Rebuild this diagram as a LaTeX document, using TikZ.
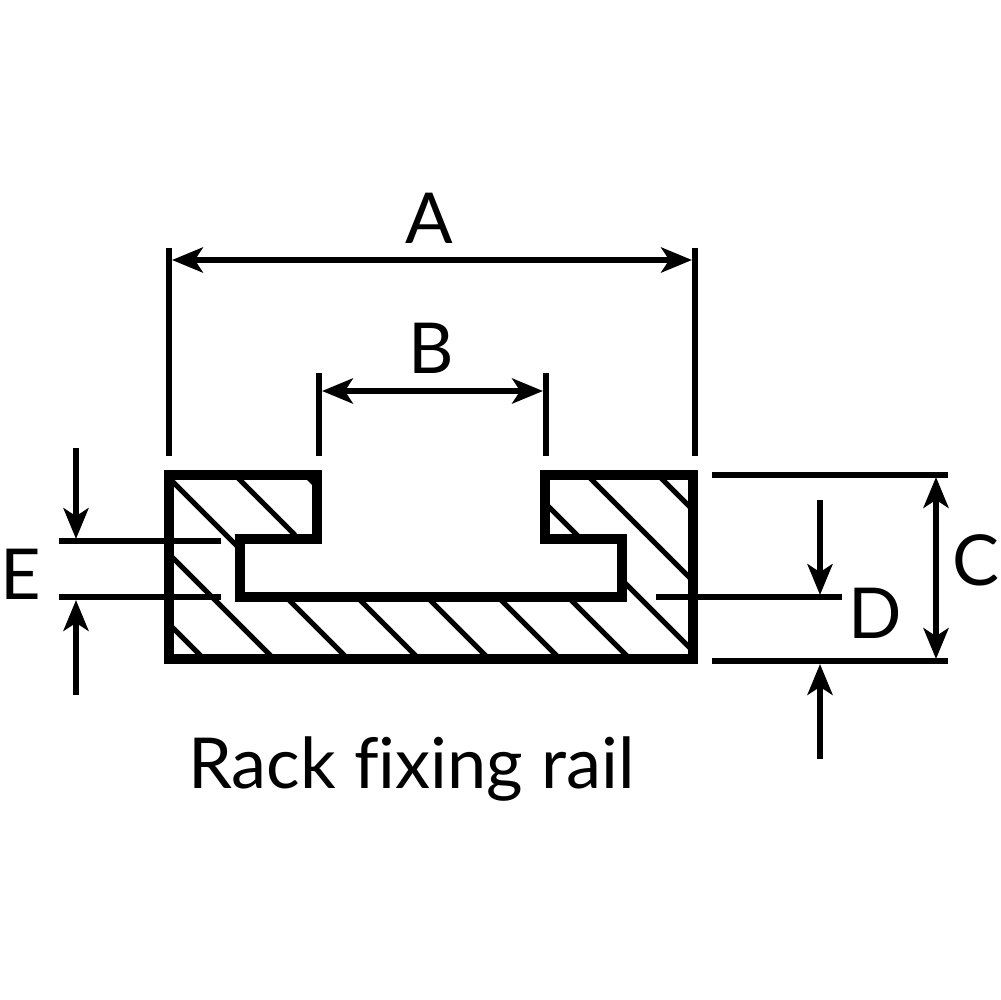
\documentclass[tikz,border=0pt]{standalone}
\usepackage{fontspec}
\setmainfont{Lato}[Ligatures=CommonOff]
\usetikzlibrary{arrows.meta}

\tikzset{
    rail/.style={line width=5.9pt, miter limit=10},
    hatch/.style={line width=3pt},
    dimline/.style={line width=3.5pt},
    dimarrow/.style={line width=3.5pt, >={Stealth[length=17.5pt, width=14.2pt, inset=4.5pt]}},
    letter/.style={inner sep=0pt, font=\fontsize{40}{48}\selectfont, anchor=base},
}

\begin{document}
\begin{tikzpicture}[x=0.02cm, y=-0.02cm]
    \useasboundingbox (0,0) rectangle (1000,1000);

    \coordinate (Atop) at (169,248);
    \coordinate (Abot) at (169,456);
    \coordinate (Arighttop) at (695,248);
    \coordinate (Arightbot) at (695,456);
    \coordinate (Aleft) at (172,260);
    \coordinate (Aright) at (692,260);
    \coordinate (Btop) at (319,373);
    \coordinate (Bbot) at (319,456);
    \coordinate (Brighttop) at (546,373);
    \coordinate (Brightbot) at (546,456);
    \coordinate (Bleft) at (322,391);
    \coordinate (Bright) at (543,391);
    \coordinate (Ctopleft) at (712,475);
    \coordinate (Ctopright) at (948,475);
    \coordinate (Cbotleft) at (712,661);
    \coordinate (Cbotright) at (948,661);
    \coordinate (Cup) at (936,477);
    \coordinate (Cdown) at (936,659);
    \coordinate (Dleft) at (656,597);
    \coordinate (Dright) at (842,597);
    \coordinate (Dstart) at (820,500);
    \coordinate (Dend) at (820,595);
    \coordinate (Dstartlow) at (820,759);
    \coordinate (Dendlow) at (820,664);
    \coordinate (Etopleft) at (59,541);
    \coordinate (Etopright) at (221,541);
    \coordinate (Ebotleft) at (59,597);
    \coordinate (Ebotright) at (221,597);
    \coordinate (Estart) at (76,448);
    \coordinate (Eend) at (76,539);
    \coordinate (Estartlow) at (76,695);
    \coordinate (Eendlow) at (76,600);

    \draw[hatch] (172,481) -- (237,546);
    \draw[hatch] (238,478) -- (295,535);
    \draw[hatch] (172,557) -- (272,657);
    \draw[hatch] (172,627) -- (202,657);
    \draw[hatch] (289,600) -- (346,657);
    \draw[hatch] (360,600) -- (417,657);
    \draw[hatch] (430,600) -- (487,657);
    \draw[hatch] (501,600) -- (558,657);
    \draw[hatch] (571,600) -- (628,657);
    \draw[hatch] (625,583) -- (690,648);
    \draw[hatch] (590,478) -- (690,578);
    \draw[hatch] (661,478) -- (690,507);
    \draw[hatch] (548,506) -- (578,536);
    \fill (305,478) -- (314,478) -- (314,487) -- cycle;

    \draw[rail] (169,475) -- (317,475) -- (317,539) -- (240,539) -- (240,597)
        -- (622,597) -- (622,539) -- (545,539) -- (545,475) -- (693,475)
        -- (693,659) -- (169,659) -- cycle;

    \draw[dimline] (Atop) -- (Abot);
    \draw[dimline] (Arighttop) -- (Arightbot);
    \draw[dimline] (Btop) -- (Bbot);
    \draw[dimline] (Brighttop) -- (Brightbot);
    \draw[dimline] (Ctopleft) -- (Ctopright);
    \draw[dimline] (Cbotleft) -- (Cbotright);
    \draw[dimline] (Dleft) -- (Dright);
    \draw[dimline] (Etopleft) -- (Etopright);
    \draw[dimline] (Ebotleft) -- (Ebotright);

    \draw[dimarrow, <->] (Aleft) -- (Aright);
    \draw[dimarrow, <->] (Bleft) -- (Bright);
    \draw[dimarrow, <->] (Cup) -- (Cdown);
    \draw[dimarrow, ->] (Dstart) -- (Dend);
    \draw[dimarrow, ->] (Dstartlow) -- (Dendlow);
    \draw[dimarrow, ->] (Estart) -- (Eend);
    \draw[dimarrow, ->] (Estartlow) -- (Eendlow);

    \node[letter] (labelA) at (429,243) {A};
    \node[letter] (labelB) at (431,373) {B};
    \node[letter, anchor=base west] (labelC) at (952,585) {C};
    \node[letter] (labelD) at (875,638) {D};
    \node[letter, anchor=base west] (labelE) at (0,599) {E};
    \node[letter, anchor=base west] (title) at (188,788) {Rack fixing rail};
\end{tikzpicture}
\end{document}
